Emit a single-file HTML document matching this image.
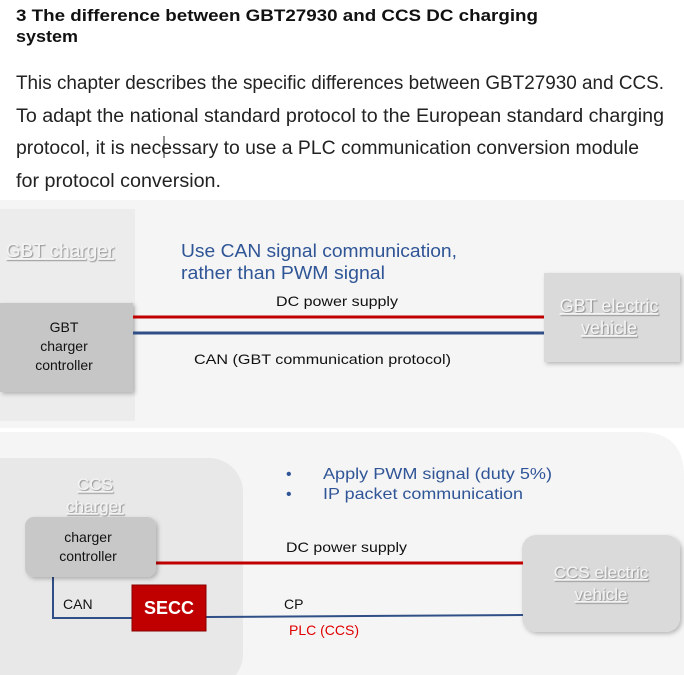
<!DOCTYPE html>
<html><head><meta charset="utf-8"><style>
html,body{margin:0;padding:0;background:#fff;width:684px;height:675px;overflow:hidden}
svg{display:block}
text{font-family:"Liberation Sans",sans-serif}
</style></head><body>
<svg width="684" height="675" viewBox="0 0 684 675" xmlns="http://www.w3.org/2000/svg">
<defs>
<filter id="sh" x="-10%" y="-10%" width="130%" height="130%"><feDropShadow dx="2" dy="2" stdDeviation="2" flood-color="#000" flood-opacity="0.25"/></filter>
<filter id="ts"><feDropShadow dx="1" dy="1" stdDeviation="0.6" flood-color="#777" flood-opacity="0.8"/></filter>
</defs>
<!-- header text -->
<text x="16" y="21" font-size="17" font-weight="bold" fill="#111" textLength="522" lengthAdjust="spacingAndGlyphs">3 The difference between GBT27930 and CCS DC charging</text>
<text x="16" y="42" font-size="17" font-weight="bold" fill="#111" textLength="62" lengthAdjust="spacingAndGlyphs">system</text>
<g font-size="19" fill="#222">
<text x="16" y="89" textLength="648" lengthAdjust="spacingAndGlyphs">This chapter describes the specific differences between GBT27930 and CCS.</text>
<text x="16" y="122" textLength="648" lengthAdjust="spacingAndGlyphs">To adapt the national standard protocol to the European standard charging</text>
<text x="16" y="154" textLength="623" lengthAdjust="spacingAndGlyphs">protocol, it is necessary to use a PLC communication conversion module</text>
<text x="16" y="187" textLength="205" lengthAdjust="spacingAndGlyphs">for protocol conversion.</text>
</g>
<line x1="164" y1="136" x2="164" y2="158" stroke="#222" stroke-width="1"/>

<!-- top diagram -->
<rect x="0" y="200" width="684" height="228" fill="#f5f5f5"/>
<rect x="0" y="209" width="135" height="212" fill="#ececec"/>
<text x="60" y="257" font-size="19" fill="#f4f4f4" text-anchor="middle" filter="url(#ts)" text-decoration="underline">GBT charger</text>
<rect x="0" y="303" width="133" height="89" fill="#c6c6c6" filter="url(#sh)"/>
<g font-size="14" fill="#111" text-anchor="middle">
<text x="64" y="332">GBT</text><text x="64" y="351">charger</text><text x="64" y="370">controller</text>
</g>
<text x="181" y="257" font-size="18" fill="#2f5597" textLength="276" lengthAdjust="spacingAndGlyphs">Use CAN signal communication,</text>
<text x="181" y="279" font-size="18" fill="#2f5597" textLength="204" lengthAdjust="spacingAndGlyphs">rather than PWM signal</text>
<text x="276" y="306" font-size="14" fill="#111" textLength="122" lengthAdjust="spacingAndGlyphs">DC power supply</text>
<line x1="133" y1="317" x2="544" y2="317" stroke="#c00000" stroke-width="3"/>
<line x1="133" y1="333" x2="544" y2="333" stroke="#2f4f86" stroke-width="3"/>
<text x="194" y="364" font-size="14" fill="#111" textLength="257" lengthAdjust="spacingAndGlyphs">CAN (GBT communication protocol)</text>
<rect x="544" y="273" width="136" height="89" fill="#dadada" filter="url(#sh)"/>
<g font-size="18" fill="#f4f4f4" text-anchor="middle" filter="url(#ts)" text-decoration="underline">
<text x="609" y="312">GBT electric</text><text x="609" y="334">vehicle</text>
</g>

<!-- bottom diagram -->
<path d="M0 432 H640 Q684 432 684 476 V675 H0 Z" fill="#f5f5f5"/>
<rect x="-30" y="458" width="273" height="230" rx="34" fill="#e8e8e8"/>
<g font-size="17" fill="#f4f4f4" text-anchor="middle" filter="url(#ts)" text-decoration="underline">
<text x="95" y="490">CCS</text><text x="95" y="512">charger</text>
</g>
<text x="286" y="479" font-size="16" fill="#2f5597">•</text>
<text x="286" y="499" font-size="16" fill="#2f5597">•</text>
<text x="323" y="479" font-size="16" fill="#2f5597" textLength="229" lengthAdjust="spacingAndGlyphs">Apply PWM signal (duty 5%)</text>
<text x="323" y="499" font-size="16" fill="#2f5597" textLength="200" lengthAdjust="spacingAndGlyphs">IP packet communication</text>
<rect x="522" y="535" width="158" height="97" rx="14" fill="#dadada" filter="url(#sh)"/>
<g font-size="17" fill="#f4f4f4" text-anchor="middle" filter="url(#ts)" text-decoration="underline">
<text x="601" y="578">CCS electric</text><text x="601" y="600">vehicle</text>
</g>
<line x1="155" y1="563" x2="523" y2="563" stroke="#c00000" stroke-width="3"/>
<polyline points="53,577 53,618 133,618" fill="none" stroke="#2f4f86" stroke-width="2"/>
<line x1="206" y1="617" x2="523" y2="615" stroke="#2f4f86" stroke-width="2"/>
<rect x="25" y="517" width="131" height="60" rx="9" fill="#c8c8c8" filter="url(#sh)"/>
<g font-size="14" fill="#111" text-anchor="middle">
<text x="88" y="542">charger</text><text x="88" y="561">controller</text>
</g>
<text x="286" y="552" font-size="14" fill="#111" textLength="121" lengthAdjust="spacingAndGlyphs">DC power supply</text>
<text x="63" y="609" font-size="14" fill="#111">CAN</text>
<rect x="132" y="585" width="74" height="46" fill="#c00000" stroke="#8a0000" stroke-width="1"/>
<text x="169" y="614" font-size="18" font-weight="bold" fill="#fff" text-anchor="middle">SECC</text>
<text x="284" y="609" font-size="14" fill="#111">CP</text>
<text x="289" y="635" font-size="14" fill="#e00000">PLC (CCS)</text>
</svg>
</body></html>
